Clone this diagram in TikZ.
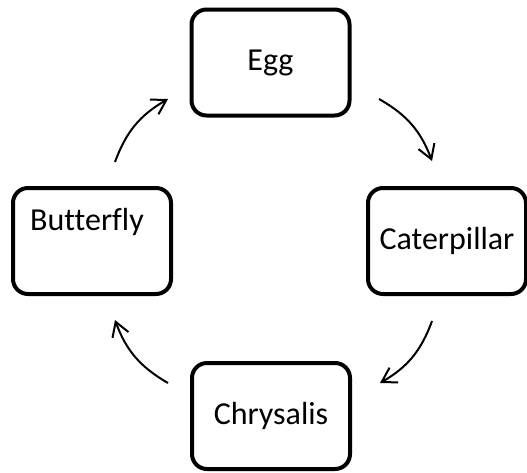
\documentclass[tikz,border=0pt]{standalone}
\usepackage{fontspec}
\setmainfont[Ligatures=NoCommon]{Carlito}
\usetikzlibrary{arrows.meta,calc}
\begin{document}
\begin{tikzpicture}[x=1pt,y=-1pt,
  stagebox/.style={draw=black,line width=4pt,rounded corners=15pt,minimum width=158pt,minimum height=106pt,inner sep=0pt,font=\fontsize{32}{38}\selectfont},
  stagetext/.style={inner sep=0pt,font=\fontsize{32}{38}\selectfont},
  cyclearrow/.style={line width=2pt,-{Straight Barb[length=14pt,width=17pt,line width=2pt]}}]
\useasboundingbox (0,0) rectangle (527,472);
\node[stagebox] (egg) at (270.5,62.5) {\raisebox{-3pt}{Egg}};
\node[stagebox] (caterpillar) at (447,241) {Caterpillar};
\node[stagebox] (chrysalis) at (271,416) {Chrysalis};
\node[stagebox] (butterfly) at (92,241) {};
\node[stagetext,anchor=base west] (butterflytext) at (30,230) {Butterfly};
\coordinate (a1s) at (379,99);
\coordinate (a1e) at (432,161);
\coordinate (a2s) at (432,321);
\coordinate (a2e) at (380,383);
\coordinate (a3s) at (168,383);
\coordinate (a3e) at (115,320);
\coordinate (a4s) at (115,162);
\coordinate (a4e) at (168,99);
\draw[cyclearrow] (a1s) to[bend left=20] (a1e);
\draw[cyclearrow] (a2s) to[bend left=20] (a2e);
\draw[cyclearrow] (a3s) to[bend left=20] (a3e);
\draw[cyclearrow] (a4s) to[bend left=20] (a4e);
\end{tikzpicture}
\end{document}
